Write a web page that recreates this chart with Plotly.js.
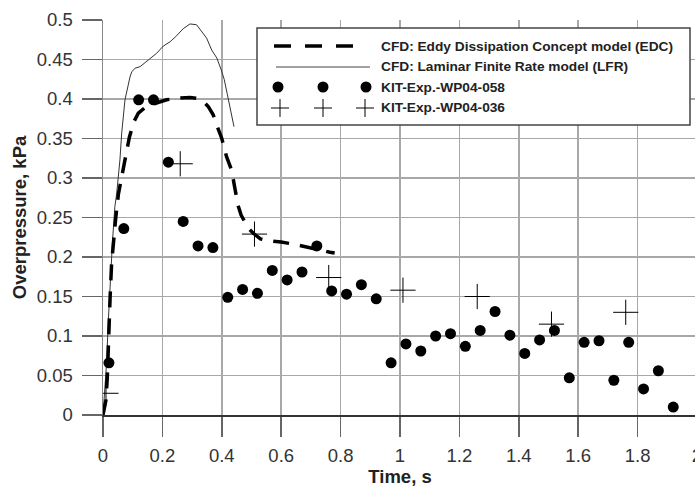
<!DOCTYPE html>
<html>
<head>
<meta charset="utf-8">
<script src="https://cdn.plot.ly/plotly-3.0.1.min.js"></script>
<style>
html,body{margin:0;padding:0;overflow:hidden;background:#fff;}
#chart{width:700px;height:487px;}
</style>
</head>
<body>
<div id="chart"></div>
<script>
// CFD: Eddy Dissipation Concept model (EDC)
const edcTime = [0,0.01,0.0145,0.018,0.024,0.029,0.035,0.043,0.052,0.068,0.089,0.105,0.119,0.147,0.18,0.214,0.25,0.293,0.315,0.34,0.355,0.371,0.385,0.40,0.416,0.433,0.445,0.455,0.465,0.478,0.49,0.506,0.53,0.55,0.6,0.646,0.7,0.73,0.764,0.78];
const edcPressure = [0,0.019,0.048,0.095,0.15,0.192,0.222,0.25,0.28,0.31,0.352,0.372,0.382,0.391,0.395,0.399,0.401,0.402,0.401,0.396,0.39,0.38,0.365,0.35,0.327,0.31,0.285,0.265,0.253,0.245,0.236,0.23,0.223,0.221,0.219,0.216,0.212,0.209,0.206,0.205];

// CFD: Laminar Finite Rate model (LFR)
const lfrTime = [0,0.006,0.012,0.018,0.024,0.032,0.04,0.046,0.057,0.063,0.074,0.08,0.091,0.097,0.108,0.125,0.14,0.158,0.181,0.203,0.226,0.245,0.27,0.293,0.315,0.338,0.349,0.366,0.383,0.397,0.408,0.418,0.43,0.441];
const lfrPressure = [0,0.03,0.065,0.12,0.171,0.22,0.264,0.28,0.323,0.357,0.399,0.411,0.428,0.4345,0.439,0.441,0.446,0.451,0.458,0.467,0.4725,0.479,0.489,0.495,0.494,0.483,0.477,0.462,0.452,0.438,0.425,0.407,0.385,0.365];

// KIT-Exp.-WP04-058
const exp058Time = [0.02,0.07,0.12,0.17,0.22,0.27,0.32,0.37,0.42,0.47,0.52,0.57,0.62,0.67,0.72,0.77,0.82,0.87,0.92,0.97,1.02,1.07,1.12,1.17,1.22,1.27,1.32,1.37,1.42,1.47,1.52,1.57,1.62,1.67,1.72,1.77,1.82,1.87,1.92];
const exp058Pressure = [0.066,0.236,0.399,0.399,0.320,0.245,0.214,0.212,0.149,0.159,0.154,0.183,0.171,0.181,0.214,0.157,0.153,0.165,0.147,0.066,0.090,0.081,0.100,0.103,0.087,0.107,0.131,0.101,0.078,0.095,0.107,0.047,0.092,0.094,0.044,0.092,0.033,0.056,0.010];

// KIT-Exp.-WP04-036
const exp036Time = [0.01,0.26,0.51,0.76,1.01,1.26,1.51,1.76];
const exp036Pressure = [0.0275,0.318,0.229,0.174,0.158,0.150,0.115,0.130];

const legendLabels = [
  "CFD: Eddy Dissipation Concept model (EDC)",
  "CFD: Laminar Finite Rate model (LFR)",
  "KIT-Exp.-WP04-058",
  "KIT-Exp.-WP04-036"
];
const xTitle = "Time, s";
const yTitle = "Overpressure, kPa";

const FONT = "Liberation Sans, Arial, Helvetica, sans-serif";

const traces = [
  {x: lfrTime, y: lfrPressure, mode: "lines", name: legendLabels[1],
   line: {color: "#333", width: 1}},
  {x: edcTime, y: edcPressure, mode: "lines", name: legendLabels[0],
   line: {color: "#000", width: 3.5, dash: "16px,11px"}},
  {x: exp058Time, y: exp058Pressure, mode: "markers", name: legendLabels[2],
   marker: {symbol: "circle", size: 11, color: "#000"}},
  {x: exp036Time, y: exp036Pressure, mode: "markers", name: legendLabels[3],
   marker: {symbol: "cross-thin", size: 18, line: {color: "#000", width: 1}}}
];

// custom legend (plot area: x 103..697 px, y 20..415 px)
const PX0 = 103, PW = 594, PY0 = 415, PH = 395;
const px = v => (v - PX0) / PW;
const py = v => (PY0 - v) / PH;
const rows = [46, 67, 87, 108];

const shapes = [
  {type: "rect", xref: "paper", yref: "paper", x0: px(257), x1: px(690), y0: py(125), y1: py(28),
   fillcolor: "#fff", line: {color: "#444", width: 1.5}, layer: "above"},
  {type: "line", xref: "paper", yref: "paper", x0: px(274), x1: px(355), y0: py(rows[0]), y1: py(rows[0]),
   line: {color: "#000", width: 3.5, dash: "17px,14px"}, layer: "above"},
  {type: "line", xref: "paper", yref: "paper", x0: px(276), x1: px(370), y0: py(rows[1]), y1: py(rows[1]),
   line: {color: "#444", width: 1}, layer: "above"}
];
[278, 323, 366].forEach(cx => shapes.push({
  type: "circle", xref: "paper", yref: "paper", xsizemode: "pixel", ysizemode: "pixel",
  xanchor: px(cx), yanchor: py(rows[2]), x0: -5.5, x1: 5.5, y0: -5.5, y1: 5.5,
  fillcolor: "#000", line: {color: "#000", width: 0}, layer: "above"}));
[280, 323, 365].forEach(cx => {
  shapes.push({type: "line", xref: "paper", yref: "paper", xsizemode: "pixel", ysizemode: "pixel",
    xanchor: px(cx), yanchor: py(rows[3]), x0: -9, x1: 9, y0: 0, y1: 0,
    line: {color: "#000", width: 1}, layer: "above"});
  shapes.push({type: "line", xref: "paper", yref: "paper", xsizemode: "pixel", ysizemode: "pixel",
    xanchor: px(cx), yanchor: py(rows[3]), x0: 0, x1: 0, y0: -9, y1: 9,
    line: {color: "#000", width: 1}, layer: "above"});
});

const annotations = legendLabels.map((t, i) => ({
  xref: "paper", yref: "paper", x: px(379), y: py(rows[i]), xanchor: "left", yanchor: "middle",
  text: t, showarrow: false, font: {family: FONT, size: 13.7, color: "#222", weight: 700}
}));

const layout = {
  width: 700, height: 487,
  margin: {l: 103, r: 3, t: 20, b: 72, pad: 0},
  paper_bgcolor: "#fff", plot_bgcolor: "#fff",
  showlegend: false,
  font: {family: FONT, size: 18.5, color: "#333"},
  xaxis: {
    range: [0, 2], tick0: 0, dtick: 0.2,
    ticks: "outside", ticklen: 20, tickwidth: 1.5, tickcolor: "#666",
    ticklabeloverflow: "allow", ticklabelstandoff: 3,
    showgrid: true, gridcolor: "#a8a8a8", gridwidth: 1.5,
    zeroline: false, showline: true, linecolor: "#333", linewidth: 1.5,
    tickfont: {family: FONT, size: 18.5, color: "#333"},
    title: {text: xTitle, standoff: 7, font: {family: FONT, size: 18.5, color: "#222", weight: 700}}
  },
  yaxis: {
    range: [0, 0.5], tick0: 0, dtick: 0.05,
    ticks: "outside", ticklen: 20, tickwidth: 1.5, tickcolor: "#666",
    ticklabelstandoff: 5,
    showgrid: true, gridcolor: "#a8a8a8", gridwidth: 1.5,
    zeroline: false, showline: true, linecolor: "#888", linewidth: 1.5,
    tickfont: {family: FONT, size: 18.5, color: "#333"},
    title: {text: yTitle, standoff: 5, font: {family: FONT, size: 18.5, color: "#222", weight: 700}}
  },
  shapes: shapes,
  annotations: annotations
};

Plotly.newPlot("chart", traces, layout, {displayModeBar: false, staticPlot: true});
</script>
</body>
</html>
